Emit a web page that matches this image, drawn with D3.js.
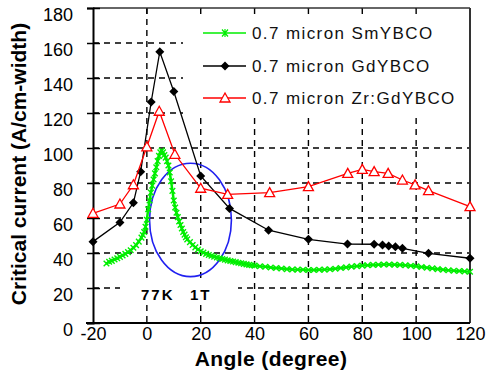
<!DOCTYPE html>
<html><head><meta charset="utf-8">
<script src="https://cdn.jsdelivr.net/npm/d3@7"></script>
<style>html,body{margin:0;padding:0;background:#fff;}svg{display:block;}</style>
</head><body>
<svg id="chart" width="487" height="370"></svg>
<script>
// ---------- data ----------
const xTicks = [-20, 0, 20, 40, 60, 80, 100, 120];
const yTicks = [0, 20, 40, 60, 80, 100, 120, 140, 160, 180];
const seriesNames = ["0.7 micron SmYBCO", "0.7 micron GdYBCO", "0.7 micron Zr:GdYBCO"];
const annotation = ["77K", "1T"];

const smAngle = [-15,-14,-13,-12,-11,-10,-9,-8,-7,-6,-5,-4,-3,-2,-1.5,-1,-0.5,0,0.5,1,1.5,2,2.5,3,3.5,4,4.5,5,5.5,6,6.5,7,7.5,8,8.5,9,9.5,10,10.5,11,11.5,12,12.5,13,13.5,14,14.5,15,16,17,18,19,20,21,22,23,24,25,26,27,28,29,30,31,32,33,34,35,36,37,38,39,40,42,44,46,48,50,52,54,56,58,60,62,64,66,68,70,72,74,76,78,80,82,84,86,88,90,92,94,96,98,100,102,104,106,108,110,112,114,116,118,120];
const smJc =    [34,35,35.5,36.3,37,37.8,38.6,39.5,40.5,41.6,43,44.5,46.5,48.8,50.3,52,55,59,65,70,74.5,78.5,82,85.5,89,92.5,95.5,97.5,98.5,97.5,96,94.5,92.5,90,86,81,75.5,70,66,63,60.5,58,56,54,52,50.5,49,47.8,46.2,44.6,43.2,42,41,40.2,39.5,38.9,38.4,37.9,37.4,37,36.6,36.2,35.8,35.4,35.1,34.8,34.4,34.1,33.8,33.5,33.2,33,32.8,32.4,32.1,31.7,31.4,31.1,30.8,30.6,30.5,30.4,30.3,30.3,30.4,30.5,30.7,31,31.4,31.8,32.2,32.5,32.8,33,33.2,33.3,33.4,33.4,33.3,33.2,33,32.7,32.4,32,31.6,31.2,30.8,30.4,30.1,29.9,29.7,29.5,29.3];

const gdAngle = [-20,-10,-5,-2.3,1.6,4.8,10,20,30.7,45.2,60,74.5,84.4,87.5,89.8,92.3,94.9,104.6,120];
const gdJc =    [46.5,57.5,68.7,86.5,126.3,155,132.3,84,65.5,53,47.8,45.1,45,44.6,44,43.6,42.7,39.8,37];

const zrAngle = [-20,-10,-5,0,4.6,10.4,20,30,45.6,60,74.6,80,84.4,89.6,94.9,99.6,104.6,120];
const zrJc =    [62.7,68,79,100.7,121,96.4,77,73.5,74.5,77.9,85.5,87.8,86.5,85.5,81.7,78.9,75.6,66.5];

const ellipseCenter = [16.2, 58.9];
const ellipseRadii = [15.2, 32.4];

// ---------- setup ----------
const svg = d3.select("#chart");
const x = d3.scaleLinear().domain([-20, 120]).range([93, 470]);
const y = d3.scaleLinear().domain([0, 180]).range([323, 8]);
const FONT = "Arial, 'Liberation Sans', sans-serif";
const GREEN = "#00ee00", RED = "#ff0000", BLACK = "#000000";
const fmt = d => String(d);

// gridlines
const grid = svg.append("g");
grid.selectAll(".hg").data(yTicks.filter(d => d > 0 && d < 180)).enter().append("line")
  .attr("x1", x(-20)).attr("x2", x(120)).attr("y1", d => y(d)).attr("y2", d => y(d))
  .attr("stroke", "#000").attr("stroke-width", 1.4).attr("stroke-dasharray", "6,5");
grid.selectAll(".vg").data(xTicks.filter(d => d > -20 && d < 120)).enter().append("line")
  .attr("x1", d => x(d)).attr("x2", d => x(d)).attr("y1", y(180)).attr("y2", y(0))
  .attr("stroke", "#000").attr("stroke-width", 1.4).attr("stroke-dasharray", "6,5");

// legend background (covers grid)
svg.append("rect").attr("x", 183).attr("y", y(180) + 1).attr("width", x(120) - 183 - 1).attr("height", 106).attr("fill", "#fff");
// top inner ticks
svg.selectAll(".tt").data(xTicks.filter(d => d > -20 && d < 120)).enter().append("line")
  .attr("x1", d => x(d)).attr("x2", d => x(d)).attr("y1", y(180)).attr("y2", y(180) + 6)
  .attr("stroke", "#000").attr("stroke-width", 1.4);

// annotation background and text
svg.append("rect").attr("x", 120).attr("y", 283).attr("width", 118).attr("height", 19).attr("fill", "#fff");
svg.append("text").attr("x", 141).attr("y", 300).attr("font-family", FONT).attr("font-weight", "bold")
  .attr("font-size", 15).attr("letter-spacing", 2).text(annotation[0]);
svg.append("text").attr("x", 190).attr("y", 300).attr("font-family", FONT).attr("font-weight", "bold")
  .attr("font-size", 15).attr("letter-spacing", 2).text(annotation[1]);

// frame
svg.append("line").attr("x1", x(-20)).attr("x2", x(120)).attr("y1", y(180)).attr("y2", y(180)).attr("stroke", "#333").attr("stroke-width", 1.6);
svg.append("line").attr("x1", x(120)).attr("x2", x(120)).attr("y1", y(180)).attr("y2", y(0)).attr("stroke", "#333").attr("stroke-width", 2);

// axes
const yAxis = d3.axisLeft(y).tickValues(yTicks).tickSize(6).tickFormat(fmt);
const ya = svg.append("g").attr("transform", `translate(${x(-20)},0)`).call(yAxis);
ya.select(".domain").attr("stroke", "#000").attr("stroke-width", 2);
ya.selectAll(".tick line").attr("x1", -6).attr("x2", 7).attr("stroke-width", 1.5);
ya.selectAll(".tick text").attr("x", -20).attr("dy", "0.7em").attr("font-family", FONT).attr("font-size", 18).attr("fill", "#000");

const xAxis = d3.axisBottom(x).tickValues(xTicks).tickSize(0).tickFormat(fmt);
const xa = svg.append("g").attr("transform", `translate(0,${y(0)})`).call(xAxis);
xa.select(".domain").remove();
xa.append("line").attr("x1", 86).attr("x2", x(120)).attr("y1", 0).attr("y2", 0).attr("stroke", "#000").attr("stroke-width", 2);
xa.selectAll(".tick text").attr("y", 4).attr("dy", "0.71em").attr("font-family", FONT).attr("font-size", 18).attr("fill", "#000");

// axis titles
svg.append("text").attr("x", 271).attr("y", 366).attr("text-anchor", "middle").attr("font-family", FONT)
  .attr("font-weight", "bold").attr("font-size", 21).attr("letter-spacing", 0.4).text("Angle (degree)");
svg.append("text").attr("transform", "translate(26,164) rotate(-90)").attr("text-anchor", "middle").attr("font-family", FONT)
  .attr("font-weight", "bold").attr("font-size", 21).text("Critical current (A/cm-width)");

// ellipse
svg.append("ellipse").attr("cx", x(ellipseCenter[0])).attr("cy", y(ellipseCenter[1]))
  .attr("rx", x(ellipseCenter[0] + ellipseRadii[0]) - x(ellipseCenter[0]))
  .attr("ry", y(ellipseCenter[1]) - y(ellipseCenter[1] + ellipseRadii[1]))
  .attr("fill", "none").attr("stroke", "#2020f0").attr("stroke-width", 1.6);

const line = d3.line().x(d => x(d[0])).y(d => y(d[1]));
const sm = d3.zip(smAngle, smJc), gd = d3.zip(gdAngle, gdJc), zr = d3.zip(zrAngle, zrJc);

// SmYBCO
svg.append("path").datum(sm).attr("d", line).attr("fill", "none").attr("stroke", GREEN).attr("stroke-width", 2.5);
svg.append("g").selectAll("path").data(sm).enter().append("path")
  .attr("transform", d => `translate(${x(d[0])},${y(d[1])})`)
  .attr("d", "M-2.8,-2.8L2.8,2.8M-2.8,2.8L2.8,-2.8").attr("stroke", GREEN).attr("stroke-width", 1.4);

// GdYBCO
svg.append("path").datum(gd).attr("d", line).attr("fill", "none").attr("stroke", BLACK).attr("stroke-width", 1.3);
const diamond = "M0,-4.5L4.5,0L0,4.5L-4.5,0Z";
svg.append("g").selectAll("path").data(gd).enter().append("path")
  .attr("transform", d => `translate(${x(d[0])},${y(d[1])})`).attr("d", diamond).attr("fill", BLACK);

// Zr:GdYBCO
svg.append("path").datum(zr).attr("d", line).attr("fill", "none").attr("stroke", RED).attr("stroke-width", 1.3);
const tri = "M0,-5L5,4L-5,4Z";
svg.append("g").selectAll("path").data(zr).enter().append("path")
  .attr("transform", d => `translate(${x(d[0])},${y(d[1])})`).attr("d", tri).attr("fill", "#fff").attr("stroke", RED).attr("stroke-width", 1.3);

// legend
const legY = [33, 66, 98];
const legColors = [GREEN, BLACK, RED];
const legMarks = ["M-3,-3.5L3,3.5M-3,3.5L3,-3.5M0,-4L0,4", diamond, tri];
seriesNames.forEach((name, i) => {
  const g = svg.append("g").attr("transform", `translate(0,${legY[i]})`);
  g.append("line").attr("x1", 203).attr("x2", 246).attr("y1", 0).attr("y2", 0).attr("stroke", legColors[i]).attr("stroke-width", 1.4);
  const m = g.append("path").attr("transform", "translate(225,0)").attr("d", legMarks[i]);
  if (i === 0) m.attr("stroke", GREEN).attr("stroke-width", 1.2).attr("fill", "none");
  else if (i === 1) m.attr("fill", BLACK);
  else m.attr("fill", "#fff").attr("stroke", RED).attr("stroke-width", 1.3);
  g.append("text").attr("x", 252).attr("y", 6).attr("font-family", FONT).attr("font-size", 17)
    .attr("letter-spacing", 1.4).attr("fill", "#111").text(name);
});
</script>
</body></html>
